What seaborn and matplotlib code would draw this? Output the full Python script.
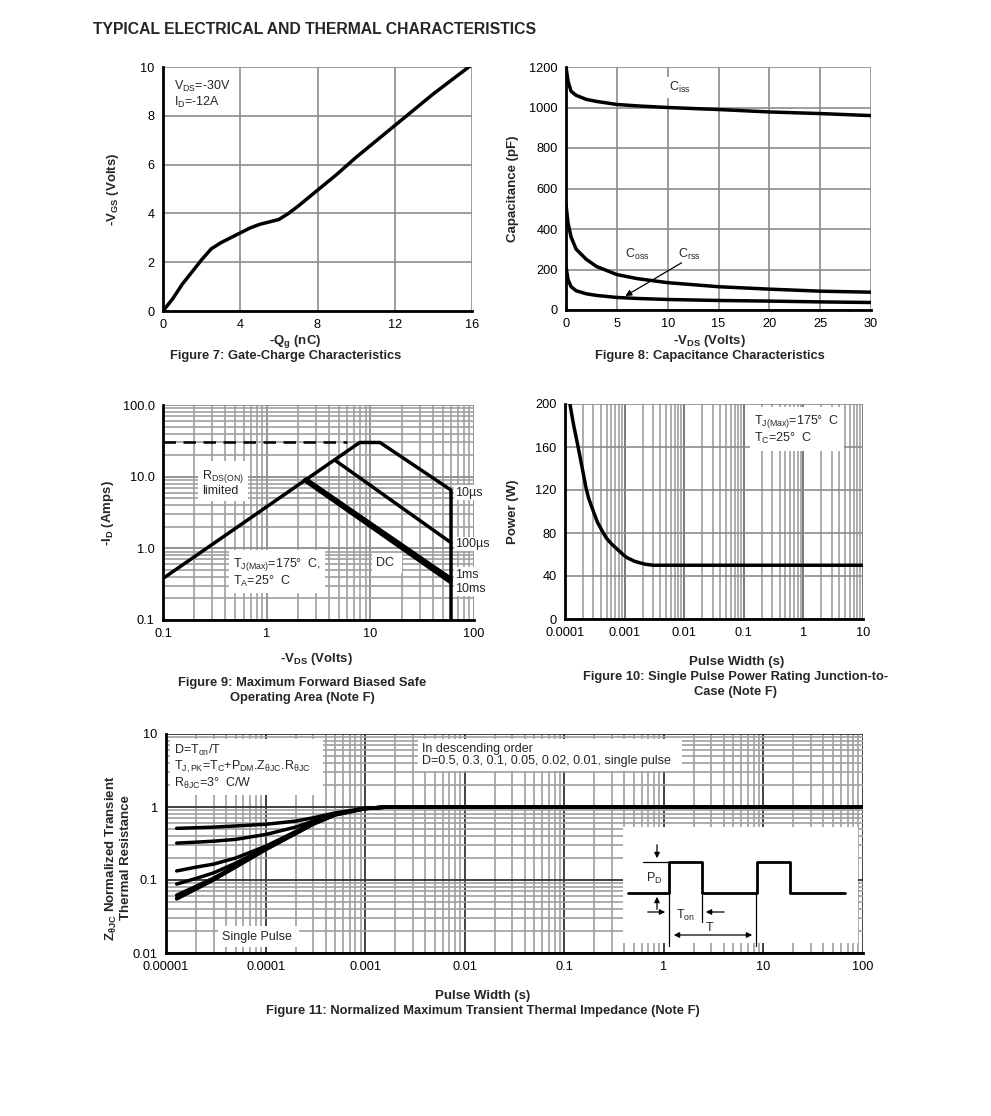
import numpy as np
import pandas as pd
import matplotlib
matplotlib.use("Agg")
import matplotlib.pyplot as plt
import seaborn as sns
from matplotlib.ticker import LogLocator, NullFormatter

# ---- Figure 7: gate charge
qg = [0, 0.5, 1, 1.5, 2, 2.5, 3, 3.5, 4, 4.5, 5, 5.5, 6, 6.5, 7, 8, 9, 10, 11, 12, 13, 14, 15, 16]
vgs = [0, 0.5, 1.1, 1.6, 2.1, 2.55, 2.8, 3.0, 3.2, 3.4, 3.55, 3.65, 3.75, 4.0, 4.3,
       4.95, 5.6, 6.3, 6.95, 7.6, 8.25, 8.9, 9.5, 10.1]

# ---- Figure 8: capacitance
vds_c = [0, 0.2, 0.5, 1, 2, 3, 5, 7, 10, 15, 20, 25, 30]
ciss = [1200, 1130, 1080, 1060, 1040, 1030, 1015, 1008, 1000, 990, 978, 970, 960]
coss = [520, 430, 360, 300, 250, 215, 175, 155, 135, 115, 103, 93, 88]
crss = [215, 150, 115, 95, 80, 72, 62, 57, 52, 47, 44, 40, 37]

# ---- Figure 9: safe operating area
soa_dash_v = [0.1, 6.0]
soa_dash_i = [30, 30]
soa_10us_v = [0.1, 7.9, 12.4, 60, 60]
soa_10us_i = [0.38, 30, 30, 6.5, 0.1]
soa_100us_v = [4.55, 60]
soa_100us_i = [17, 1.2]
soa_1ms_v = [2.4, 60]
soa_1ms_i = [9.3, 0.38]
soa_10ms_v = [2.35, 60]
soa_10ms_i = [9.1, 0.355]
soa_dc_v = [2.3, 60]
soa_dc_i = [8.9, 0.33]

# ---- Figure 10: single pulse power
pw = [1.15e-4, 1.21e-4, 1.3e-4, 1.4e-4, 1.5e-4, 1.66e-4, 1.8e-4, 2e-4, 2.25e-4, 2.5e-4,
      3e-4, 3.5e-4, 4.4e-4, 5e-4, 6e-4, 7.5e-4, 9.4e-4, 1.1e-3, 1.5e-3, 2.2e-3, 3e-3, 10]
power = [212, 200, 190, 180, 172, 160, 150, 137, 122, 112, 100, 90, 80, 75, 70, 65, 60,
         57, 53.5, 51, 50, 50]

# ---- Figure 11: transient thermal impedance
zt = [1.28e-5, 2e-5, 3e-5, 5e-5, 1e-4, 2e-4, 3e-4, 5e-4, 1e-3, 1.5e-3, 2e-3, 100]
z_curves = {
    "0.5": [0.51, 0.52, 0.53, 0.55, 0.58, 0.64, 0.71, 0.83, 0.96, 0.99, 1.0, 1.0],
    "0.3": [0.32, 0.33, 0.34, 0.36, 0.42, 0.53, 0.64, 0.8, 0.96, 0.99, 1.0, 1.0],
    "0.1": [0.133, 0.15, 0.165, 0.2, 0.29, 0.46, 0.61, 0.8, 0.96, 0.99, 1.0, 1.0],
    "0.05": [0.088, 0.105, 0.125, 0.17, 0.275, 0.45, 0.6, 0.79, 0.955, 0.99, 1.0, 1.0],
    "0.02": [0.062, 0.082, 0.106, 0.156, 0.265, 0.44, 0.59, 0.785, 0.952, 0.99, 1.0, 1.0],
    "0.01": [0.057, 0.077, 0.102, 0.152, 0.262, 0.435, 0.585, 0.78, 0.95, 0.99, 1.0, 1.0],
    "single": [0.055, 0.075, 0.1, 0.15, 0.26, 0.43, 0.58, 0.78, 0.95, 0.99, 1.0, 1.0],
}

# pulse sketch for the inset (pixel frame of the inset)
pulse_x = [628, 669, 669, 702, 702, 757, 757, 790, 790, 845]
pulse_y = [893, 893, 862, 862, 893, 893, 862, 862, 893, 893]

sns.set_style("white")
plt.rcParams["font.family"] = ["Liberation Sans", "DejaVu Sans"]
plt.rcParams["mathtext.fontset"] = "custom"
plt.rcParams["mathtext.rm"] = "Liberation Sans"
plt.rcParams["mathtext.it"] = "Liberation Sans:italic"
plt.rcParams["mathtext.bf"] = "Liberation Sans:bold"

W, H = 991, 1116
fig = plt.figure(figsize=(W / 100, H / 100), dpi=100)
fig.patch.set_facecolor("white")

GRID = "#8c8c8c"
MINOR = "#a0a0a0"
MAJOR = "#6e6e6e"
TICK = 9.2
ANN = 9
LAB = 9.5
CAP = 9.3


def add_ax(l, t, r, b):
    return fig.add_axes([l / W, 1 - b / H, (r - l) / W, (b - t) / H])


def ftext(x, y, s, **kw):
    kw.setdefault("ha", "center")
    kw.setdefault("va", "center")
    fig.text(x / W, 1 - y / H, s, **kw)


def style_ax(ax):
    for s in ["top", "right"]:
        ax.spines[s].set_visible(False)
    for s in ["left", "bottom"]:
        ax.spines[s].set_linewidth(2)
        ax.spines[s].set_color("black")
    ax.tick_params(which="both", length=0, labelsize=TICK, pad=6, colors="black")


def log_grid(ax, axis, major=MAJOR):
    a = ax.xaxis if axis == "x" else ax.yaxis
    a.set_minor_locator(LogLocator(base=10, subs=np.arange(2, 10)))
    a.set_minor_formatter(NullFormatter())
    ax.grid(True, which="minor", axis=axis, color=MINOR, lw=1.2)
    ax.grid(True, which="major", axis=axis, color=major, lw=1.3)


def box(ax, x, y, s, size=ANN, **kw):
    ax.text(x, y, s, fontsize=size, transform=ax.transAxes, zorder=5,
            bbox=dict(facecolor="white", edgecolor="none", pad=3), **kw)


ftext(93, 30, "TYPICAL ELECTRICAL AND THERMAL CHARACTERISTICS", ha="left",
      fontsize=11.3, fontweight="bold")

# ---------------- Figure 7
ax7 = add_ax(163, 67, 472, 311)
style_ax(ax7)
sns.lineplot(x=qg, y=vgs, ax=ax7, color="black", lw=2.5, sort=False, estimator=None)
ax7.set_xlim(0, 16)
ax7.set_ylim(0, 10)
ax7.set_xticks([0, 4, 8, 12, 16])
ax7.set_yticks([0, 2, 4, 6, 8, 10])
ax7.grid(True, color=GRID, lw=1.2)
ax7.text(0.035, 0.95, "V$_{\\mathrm{DS}}$=-30V\nI$_{\\mathrm{D}}$=-12A", transform=ax7.transAxes,
         fontsize=ANN, va="top", ha="left", linespacing=1.05, zorder=5,
         bbox=dict(facecolor="white", edgecolor="none", pad=1))
ftext(113, 189, "-V$_{\\mathbf{GS}}$ (Volts)", rotation=90, fontsize=LAB, fontweight="bold")
ftext(295, 341, "-Q$_{\\mathbf{g}}$ (nC)", fontsize=LAB, fontweight="bold")
ftext(286, 356, "Figure 7: Gate-Charge Characteristics", fontsize=CAP, fontweight="bold")

# ---------------- Figure 8
ax8 = add_ax(566, 67, 871, 310)
style_ax(ax8)
for c in (ciss, coss, crss):
    sns.lineplot(x=vds_c, y=c, ax=ax8, color="black", lw=2.5, sort=False, estimator=None)
ax8.set_xlim(0, 30)
ax8.set_ylim(0, 1200)
ax8.set_xticks([0, 5, 10, 15, 20, 25, 30])
ax8.set_yticks([0, 200, 400, 600, 800, 1000, 1200])
ax8.grid(True, color=GRID, lw=1.2)
for xv, yv, s in ((11.2, 1100, "C$_{\\mathrm{iss}}$"), (7.0, 272, "C$_{\\mathrm{oss}}$"),
                  (12.1, 272, "C$_{\\mathrm{rss}}$")):
    ax8.text(xv, yv, s, fontsize=ANN, ha="center", va="center", zorder=5,
             bbox=dict(facecolor="white", edgecolor="none", pad=2))
ax8.annotate("", xy=(5.6, 62), xytext=(11.6, 240),
             arrowprops=dict(arrowstyle="-|>", color="black", lw=0.9, mutation_scale=9), zorder=6)
ftext(513, 189, "Capacitance (pF)", rotation=90, fontsize=LAB, fontweight="bold")
ftext(709, 341, "-V$_{\\mathbf{DS}}$ (Volts)", fontsize=LAB, fontweight="bold")
ftext(710, 356, "Figure 8: Capacitance Characteristics", fontsize=CAP, fontweight="bold")

# ---------------- Figure 9
ax9 = add_ax(163, 405, 474, 620)
style_ax(ax9)
ax9.set_xscale("log")
ax9.set_yscale("log")
ax9.set_xlim(0.1, 100)
ax9.set_ylim(0.1, 100)
log_grid(ax9, "x", major=GRID)
log_grid(ax9, "y", major=GRID)
ax9.plot(soa_dash_v, soa_dash_i, color="black", lw=1.8, ls=(0, (5, 3)))
sns.lineplot(x=soa_10us_v, y=soa_10us_i, ax=ax9, color="black", lw=2.5, sort=False, estimator=None)
sns.lineplot(x=soa_100us_v, y=soa_100us_i, ax=ax9, color="black", lw=2.5, sort=False, estimator=None)
for v, i in ((soa_1ms_v, soa_1ms_i), (soa_10ms_v, soa_10ms_i), (soa_dc_v, soa_dc_i)):
    sns.lineplot(x=v, y=i, ax=ax9, color="black", lw=2.5, sort=False, estimator=None)
ax9.set_xticks([0.1, 1, 10, 100])
ax9.set_xticklabels(["0.1", "1", "10", "100"])
ax9.set_yticks([0.1, 1, 10, 100])
ax9.set_yticklabels(["0.1", "1.0", "10.0", "100.0"])
box(ax9, 0.125, 0.64, "R$_{\\mathrm{DS(ON)}}$\nlimited", va="center", ha="left", linespacing=0.95)
box(ax9, 0.225, 0.22, "T$_{\\mathrm{J(Max)}}$=175°  C,\nT$_{\\mathrm{A}}$=25°  C     ", va="center",
    ha="left", linespacing=1.1)
box(ax9, 0.685, 0.265, "DC ", va="center", ha="left")
for lbl, yv in (("10µs", 6.0), ("100µs", 1.15), ("1ms", 0.43), ("10ms", 0.27)):
    ax9.text(66, yv, lbl, fontsize=ANN, ha="left", va="center", zorder=5,
             bbox=dict(facecolor="white", edgecolor="none", pad=1))
ftext(108, 513, "-I$_{\\mathbf{D}}$ (Amps)", rotation=90, fontsize=LAB, fontweight="bold")
ftext(316, 659, "-V$_{\\mathbf{DS}}$ (Volts)", fontsize=LAB, fontweight="bold")
ftext(302, 683, "Figure 9: Maximum Forward Biased Safe", fontsize=CAP, fontweight="bold")
ftext(302, 698, "Operating Area (Note F)", fontsize=CAP, fontweight="bold")

# ---------------- Figure 10
ax10 = add_ax(565, 404, 863, 619)
style_ax(ax10)
ax10.set_xscale("log")
ax10.set_xlim(1e-4, 10)
ax10.set_ylim(0, 200)
log_grid(ax10, "x")
ax10.set_yticks([0, 40, 80, 120, 160, 200])
ax10.grid(True, which="major", axis="y", color=GRID, lw=1.2)
sns.lineplot(x=pw, y=power, ax=ax10, color="black", lw=2.5, sort=False, estimator=None)
ax10.set_xticks([1e-4, 1e-3, 1e-2, 1e-1, 1, 10])
ax10.set_xticklabels(["0.0001", "0.001", "0.01", "0.1", "1", "10"])
box(ax10, 0.635, 0.88, "T$_{\\mathrm{J(Max)}}$=175°  C\nT$_{\\mathrm{C}}$=25°  C        ", va="center",
    ha="left", linespacing=1.1)
ftext(513, 512, "Power (W)", rotation=90, fontsize=LAB, fontweight="bold")
ftext(737, 662, "Pulse Width (s)", fontsize=LAB, fontweight="bold")
ftext(736, 677, "Figure 10: Single Pulse Power Rating Junction-to-", fontsize=CAP, fontweight="bold")
ftext(736, 692, "Case (Note F)", fontsize=CAP, fontweight="bold")

# ---------------- Figure 11
ax11 = add_ax(166, 734, 863, 953)
style_ax(ax11)
ax11.set_xscale("log")
ax11.set_yscale("log")
ax11.set_xlim(1e-5, 100)
ax11.set_ylim(0.01, 10)
log_grid(ax11, "x", major="#333333")
log_grid(ax11, "y", major="#333333")
for name, vals in z_curves.items():
    sns.lineplot(x=zt, y=vals, ax=ax11, color="black", lw=2.5, sort=False, estimator=None)
ax11.set_xticks([1e-5, 1e-4, 1e-3, 1e-2, 1e-1, 1, 10, 100])
ax11.set_xticklabels(["0.00001", "0.0001", "0.001", "0.01", "0.1", "1", "10", "100"])
ax11.set_yticks([0.01, 0.1, 1, 10])
ax11.set_yticklabels(["0.01", "0.1", "1", "10"])
box(ax11, 0.012, 0.96,
    "D=T$_{\\mathrm{on}}$/T\nT$_{\\mathrm{J,PK}}$=T$_{\\mathrm{C}}$+P$_{\\mathrm{DM}}$.Z$_{\\mathrm{θJC}}$.R$_{\\mathrm{θJC}}$   \n"
    "R$_{\\mathrm{θJC}}$=3°  C/W", va="top", ha="left", linespacing=1.1)
box(ax11, 0.368, 0.96, "In descending order\nD=0.5, 0.3, 0.1, 0.05, 0.02, 0.01, single pulse  ",
    va="top", ha="left", linespacing=1.05)
box(ax11, 0.08, 0.075, "Single Pulse ", va="center", ha="left")

# inset with pulse sketch
axi = add_ax(623, 827, 858, 943)
axi.set_xlim(623, 858)
axi.set_ylim(943, 827)
axi.axis("off")
axi.add_patch(plt.Rectangle((623, 827), 235, 116, facecolor="white", edgecolor="none", zorder=0))
axi.plot(pulse_x, pulse_y, color="black", lw=2, clip_on=False)
axi.plot([643, 669], [862, 862], color="black", lw=0.9)
for xv, y0, y1 in ((669, 893, 946), (702, 895, 922), (756, 893, 946)):
    axi.plot([xv, xv], [y0, y1], color="black", lw=0.9, clip_on=False)
arw = dict(arrowstyle="-|>", color="black", lw=0.9, mutation_scale=8)
axi.annotate("", xy=(657, 861), xytext=(657, 842), arrowprops=arw)
axi.annotate("", xy=(657, 894), xytext=(657, 912), arrowprops=arw)
axi.annotate("", xy=(668, 912), xytext=(645, 912), arrowprops=arw)
axi.annotate("", xy=(703, 912), xytext=(727, 912), arrowprops=arw)
axi.annotate("", xy=(671, 935), xytext=(755, 935),
             arrowprops=dict(arrowstyle="<|-|>", color="black", lw=0.9, mutation_scale=8))
axi.text(654, 878, "P$_{\\mathrm{D}}$", fontsize=ANN, ha="center", va="center")
axi.text(685, 915, "T$_{\\mathrm{on}}$", fontsize=ANN, ha="center", va="center")
axi.text(710, 928, "T", fontsize=ANN, ha="center", va="center")

ftext(111, 858, "Z$_{\\mathbf{θJC}}$ Normalized Transient", rotation=90, fontsize=LAB, fontweight="bold")
ftext(126, 858, "Thermal Resistance", rotation=90, fontsize=LAB, fontweight="bold")
ftext(483, 996, "Pulse Width (s)", fontsize=LAB, fontweight="bold")
ftext(483, 1011, "Figure 11: Normalized Maximum Transient Thermal Impedance (Note F)",
      fontsize=CAP, fontweight="bold")

fig.savefig("out.png", dpi=100, facecolor="white")
